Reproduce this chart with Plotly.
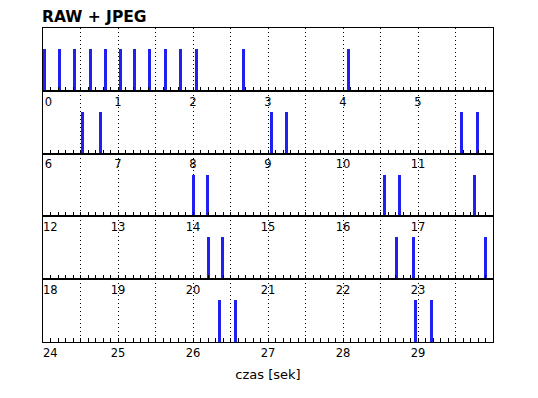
import plotly.graph_objects as go
from plotly.subplots import make_subplots

# shot times in seconds (RAW + JPEG)
shot_times = [0.02, 0.22, 0.42, 0.63, 0.83, 1.03, 1.22, 1.42, 1.63, 1.83, 2.04, 2.67, 4.07,
              6.53, 6.77, 9.04, 9.24, 11.58, 11.79,
              14.00, 14.19, 16.55, 16.75, 17.75,
              20.20, 20.39, 22.71, 22.94, 23.90,
              26.35, 26.56, 28.96, 29.18]
bar_height = 0.66
row_span = 6
n_rows = 5
title_text = "RAW + JPEG"
x_title = "czas [sek]"

fig = make_subplots(rows=n_rows, cols=1, vertical_spacing=0)

for r in range(n_rows):
    start = r * row_span
    xs = [t for t in shot_times if start <= t < start + row_span]
    fig.add_trace(go.Bar(x=xs, y=[bar_height] * len(xs), width=0.04,
                         marker=dict(color="rgb(32,32,240)", line=dict(width=0)),
                         showlegend=False, hoverinfo="x"), row=r + 1, col=1)
    tickvals = [start + 0.5 * i for i in range(2 * row_span)]
    ticktext = []
    for v in tickvals:
        if abs(v - round(v)) < 1e-9:
            lbl = str(int(round(v)))
            if v == start:
                lbl = "\u00a0" * (len(lbl) + 2) + lbl
            ticktext.append(lbl)
        else:
            ticktext.append("")
    fig.update_xaxes(range=[start, start + row_span], tickmode="array",
                     tickvals=tickvals, ticktext=ticktext, automargin=False,
                     ticks="inside", ticklen=4, tickcolor="black", tickwidth=1,
                     minor=dict(tickmode="linear", tick0=0, dtick=0.1, ticks="inside",
                                ticklen=4, tickcolor="black", tickwidth=1, showgrid=False),
                     showgrid=True, gridcolor="black", gridwidth=1, griddash="1px,3px",
                     showline=True, linecolor="black", linewidth=1, mirror=True,
                     zeroline=False,
                     tickfont=dict(family="DejaVu Sans", size=11.5, color="black"),
                     row=r + 1, col=1)
    fig.update_yaxes(range=[0, 1], showticklabels=False, ticks="", showgrid=False,
                     zeroline=False, showline=True, linecolor="black", linewidth=1,
                     mirror=True, fixedrange=True, automargin=False, row=r + 1, col=1)

fig.update_xaxes(title=dict(text=x_title, font=dict(family="DejaVu Sans", size=13, color="black"),
                            standoff=11), row=n_rows, col=1)

fig.add_annotation(text="<b>" + title_text + "</b>", xref="paper", yref="paper",
                   x=0, y=1, xanchor="left", yanchor="bottom", showarrow=False, xshift=-3,
                   font=dict(family="DejaVu Sans", size=15.5, color="black"))

fig.update_layout(width=538, height=398, margin=dict(l=43, r=45, t=28, b=56),
                  paper_bgcolor="white", plot_bgcolor="white", bargap=0,
                  font=dict(family="DejaVu Sans", color="black"))

fig.write_html("out.html", config={"displayModeBar": False},
               post_script="document.body.style.margin='0';document.body.style.overflow='hidden';")
